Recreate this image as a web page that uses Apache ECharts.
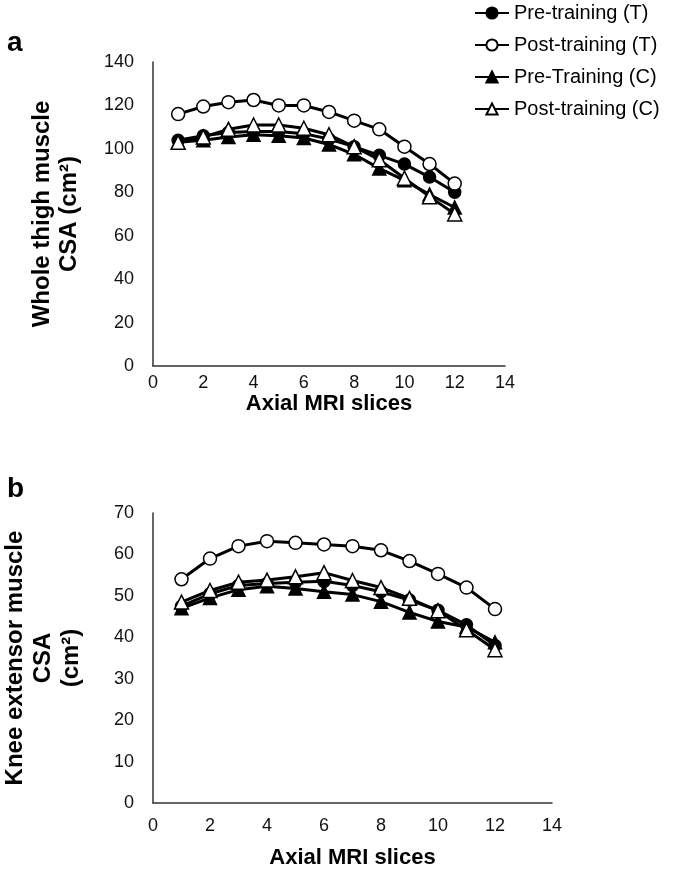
<!DOCTYPE html>
<html>
<head>
<meta charset="utf-8" />
<title>CSA by axial slice</title>
<script src="https://cdn.jsdelivr.net/npm/echarts@6/dist/echarts.min.js"></script>
<style>
  html, body { margin: 0; padding: 0; background: #fff; }
  #main { width: 675px; height: 876px; }
</style>
</head>
<body>
<div id="main"></div>
<script>
// axial MRI slice numbers
var slices = [1, 2, 3, 4, 5, 6, 7, 8, 9, 10, 11, 12];

// panel a: whole thigh muscle CSA (cm2)
var wholePreT  = [104, 106, 107.5, 108, 108, 107, 104.5, 101, 97, 93, 87, 80];
var wholePostT = [116, 119.5, 121.5, 122.5, 120, 120, 117, 113, 109, 101, 93, 84];
var wholePreC  = [103, 104, 105.5, 106.5, 106, 105, 102, 97.5, 91, 85.5, 79, 73];
var wholePostC = [103, 105.5, 109, 111, 111, 109.5, 106.5, 101, 95, 86.5, 78, 70];

// panel b: knee extensor muscle CSA (cm2)
var kneePreT  = [47.5, 50.5, 52.5, 53, 53.3, 53.5, 52.5, 51, 49, 46.5, 43, 38];
var kneePostT = [54, 59, 62, 63.2, 62.8, 62.4, 62, 61, 58.4, 55.3, 52, 46.8];
var kneePreC  = [47, 49.5, 51.5, 52.3, 51.8, 51, 50.3, 48.6, 46, 43.8, 42.5, 38.8];
var kneePostC = [48.5, 51.3, 53.3, 53.8, 54.6, 55.6, 53.7, 52, 49.4, 46.4, 41.8, 37];

var seriesNames = ['Pre-training (T)', 'Post-training (T)', 'Pre-Training (C)', 'Post-training (C)'];
var symbols = ['circle', 'circle', 'triangle', 'triangle'];
var fills = ['#000', '#fff', '#000', '#fff'];
var symbolSizes = [12, 13, 13, 14];

var font = 'Liberation Sans, Arial, sans-serif';

function pairs(vals) {
  return vals.map(function (v, i) { return [slices[i], v]; });
}

function makeSeries(idx, data, gridIdx) {
  return {
    name: seriesNames[idx],
    type: 'line',
    xAxisIndex: gridIdx,
    yAxisIndex: gridIdx,
    data: pairs(data),
    symbol: symbols[idx],
    symbolSize: symbolSizes[idx],
    showAllSymbol: true,
    z: 2 + idx,
    lineStyle: { color: '#000', width: 3 },
    itemStyle: { color: fills[idx], borderColor: '#000', borderWidth: 1.5 },
    emphasis: { disabled: true }
  };
}

var myChart = echarts.init(document.getElementById('main'));

var option = {
  backgroundColor: '#fff',
  animation: false,
  title: [
    { text: 'a', left: 2, top: 24, textStyle: { fontFamily: font, fontSize: 28, fontWeight: 'bold', color: '#000' } },
    { text: 'b', left: 2, top: 470, textStyle: { fontFamily: font, fontSize: 28, fontWeight: 'bold', color: '#000' } }
  ],
  legend: {
    orient: 'vertical',
    left: 469,
    top: -2,
    itemWidth: 34,
    itemHeight: 14,
    itemGap: 12,
    data: seriesNames,
    textStyle: { fontFamily: font, fontSize: 20, color: '#000' }
  },
  grid: [
    { left: 153, right: 170, top: 62, height: 304, outerBoundsMode: 'none', containLabel: false },
    { left: 153, right: 123, top: 513, height: 290, outerBoundsMode: 'none', containLabel: false }
  ],
  xAxis: [0, 1].map(function (g) {
    return {
      type: 'value',
      gridIndex: g,
      min: 0,
      max: 14,
      interval: 2,
      name: 'Axial MRI slices',
      nameLocation: 'middle',
      nameGap: g === 0 ? 26 : 44,
      nameTextStyle: { fontFamily: font, fontSize: 22, fontWeight: 'bold', color: '#000' },
      axisLine: { lineStyle: { color: '#333', width: 1.5 } },
      axisTick: { show: false },
      splitLine: { show: false },
      axisLabel: { fontFamily: font, fontSize: 18, color: '#111', margin: g === 0 ? 8 : 14 }
    };
  }),
  yAxis: [
    {
      type: 'value',
      gridIndex: 0,
      min: 0,
      max: 140,
      interval: 20,
      name: 'Whole thigh muscle\nCSA (cm²)',
      nameLocation: 'middle',
      nameRotate: 90,
      nameGap: 70,
      nameTextStyle: { fontFamily: font, fontSize: 24, fontWeight: 'bold', color: '#000', lineHeight: 27 },
      axisLine: { show: true, lineStyle: { color: '#333', width: 1.5 } },
      axisTick: { show: false },
      splitLine: { show: false },
      axisLabel: { fontFamily: font, fontSize: 18, color: '#111', margin: 19 }
    },
    {
      type: 'value',
      gridIndex: 1,
      min: 0,
      max: 70,
      interval: 10,
      name: 'Knee extensor muscle\nCSA\n(cm²)',
      nameLocation: 'middle',
      nameRotate: 90,
      nameGap: 68,
      nameTextStyle: { fontFamily: font, fontSize: 24, fontWeight: 'bold', color: '#000', lineHeight: 28 },
      axisLine: { show: true, lineStyle: { color: '#333', width: 1.5 } },
      axisTick: { show: false },
      splitLine: { show: false },
      axisLabel: { fontFamily: font, fontSize: 18, color: '#111', margin: 19 }
    }
  ],
  series: [
    makeSeries(0, wholePreT, 0),
    makeSeries(1, wholePostT, 0),
    makeSeries(2, wholePreC, 0),
    makeSeries(3, wholePostC, 0),
    makeSeries(0, kneePreT, 1),
    makeSeries(1, kneePostT, 1),
    makeSeries(2, kneePreC, 1),
    makeSeries(3, kneePostC, 1)
  ]
};

myChart.setOption(option);
</script>
</body>
</html>
